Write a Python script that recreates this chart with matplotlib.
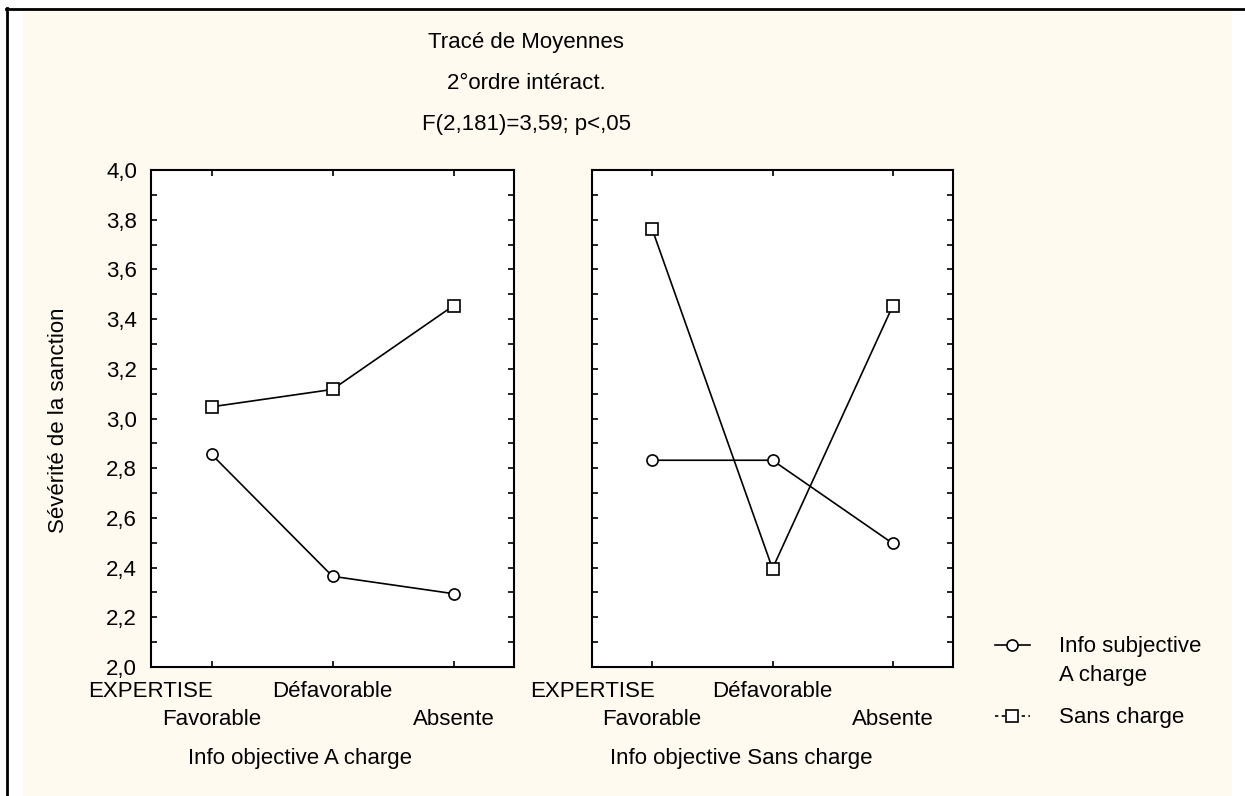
import numpy as np
import matplotlib
matplotlib.use('Agg')
import matplotlib.pyplot as plt
from matplotlib.lines import Line2D
from matplotlib.patches import Rectangle
from matplotlib.ticker import MultipleLocator, FuncFormatter
from matplotlib.legend_handler import HandlerLine2D

plt.rcParams['font.family'] = ['Liberation Sans', 'DejaVu Sans']
plt.rcParams['font.size'] = 16

# données
niveaux = ['Favorable', 'Défavorable', 'Absente']
facteur = 'EXPERTISE'
panneaux = ['Info objective A charge', 'Info objective Sans charge']
series = ['Info subjective\nA charge', 'Sans charge']
titre = ['Tracé de Moyennes', '2°ordre intéract.', 'F(2,181)=3,59; p<,05']

# Info objective A charge
objA_subjA = [2.856, 2.365, 2.295]
objA_sans = [3.047, 3.117, 3.454]
# Info objective Sans charge
objS_subjA = [2.832, 2.832, 2.497]
objS_sans = [3.762, 2.396, 3.454]


class HandlerDecale(HandlerLine2D):
    # poignée de légende alignée sur la première ligne du libellé
    def __init__(self, dy, **kw):
        super().__init__(**kw)
        self.dy = dy

    def create_artists(self, legend, orig_handle, xdescent, ydescent,
                       width, height, fontsize, trans):
        arts = super().create_artists(legend, orig_handle, xdescent, ydescent,
                                      width, height, fontsize, trans)
        for a in arts:
            a.set_ydata(np.asarray(a.get_ydata()) + self.dy)
        return arts


W, H = 1245, 796
fig = plt.figure(figsize=(W / 100, H / 100), dpi=100)
fig.patch.set_facecolor('white')

# fond crème + cadre
fig.add_artist(Rectangle((23 / W, 0), (1232 - 23) / W, 1 - 11 / H,
                         transform=fig.transFigure, facecolor='#FEFAEF',
                         edgecolor='none', zorder=0))
fig.add_artist(Line2D([7 / W, 7 / W], [0, 1 - 8 / H], color='black', lw=2,
                      transform=fig.transFigure))
fig.add_artist(Line2D([6 / W, 1], [1 - 8.5 / H, 1 - 8.5 / H], color='black', lw=2,
                      transform=fig.transFigure))

ax1 = fig.add_axes([151 / W, 1 - 667 / H, 363 / W, 497 / H])
ax2 = fig.add_axes([592 / W, 1 - 667 / H, 361 / W, 497 / H])

x = list(range(len(niveaux)))
virgule = FuncFormatter(lambda v, p: f'{v:.1f}'.replace('.', ','))

for ax, subjA, sans in [(ax1, objA_subjA, objA_sans),
                        (ax2, objS_subjA, objS_sans)]:
    ax.set_facecolor('white')
    ax.plot(x, subjA, color='black', lw=1.2, marker='o', ms=8,
            mfc='white', mec='black', mew=1.2)
    ax.plot(x, sans, color='black', lw=1.2, marker='s', ms=8,
            mfc='white', mec='black', mew=1.2)
    ax.set_xlim(-0.5, 2.5)
    ax.set_ylim(2, 4)
    ax.yaxis.set_major_locator(MultipleLocator(0.2))
    ax.yaxis.set_minor_locator(MultipleLocator(0.1))
    ax.yaxis.set_major_formatter(virgule)
    # libellés décalés sur deux rangées
    ax.set_xticks(x[1::2], niveaux[1::2])
    ax.set_xticks(x[0::2], niveaux[0::2], minor=True)
    ax.tick_params(which='both', direction='in', top=True, right=True,
                   length=4, width=1.2)
    ax.tick_params(axis='x', which='major', pad=10)
    ax.tick_params(axis='x', which='minor', pad=30.5)
    ax.tick_params(axis='y', pad=10)
    for s in ax.spines.values():
        s.set_linewidth(1.5)
    ax.annotate(facteur, xy=(0, 0), xycoords='axes fraction',
                xytext=(0, -10), textcoords='offset points',
                ha='center', va='top')

ax2.tick_params(labelleft=False)

fig.text(300 / W, 1 - 764 / H, panneaux[0], ha='center', va='baseline')
fig.text(741 / W, 1 - 764 / H, panneaux[1], ha='center', va='baseline')

fig.text(59 / W, 1 - 420 / H, 'Sévérité de la sanction', rotation=90,
         ha='center', va='center')

for i, t in enumerate(titre):
    fig.text(526 / W, 1 - (48 + 41 * i) / H, t, ha='center', va='baseline')

h1 = Line2D([], [], color='black', lw=1.2, marker='o', ms=8,
            mfc='white', mec='black', mew=1.2)
h2 = Line2D([], [], color='black', lw=1.2, ls=(0, (2, 2)), marker='s', ms=8,
            mfc='white', mec='black', mew=1.2)
leg = fig.legend([h1, h2], series, loc='upper left',
                 bbox_to_anchor=(995 / W, 1 - 636 / H), frameon=False,
                 borderpad=0, borderaxespad=0, handlelength=1.575,
                 handletextpad=1.3, labelspacing=0.95, numpoints=1,
                 handler_map={h1: HandlerDecale(11.5)})
for t in leg.get_texts():
    t.set_linespacing(1.52)

fig.savefig('out.png', dpi=100)
